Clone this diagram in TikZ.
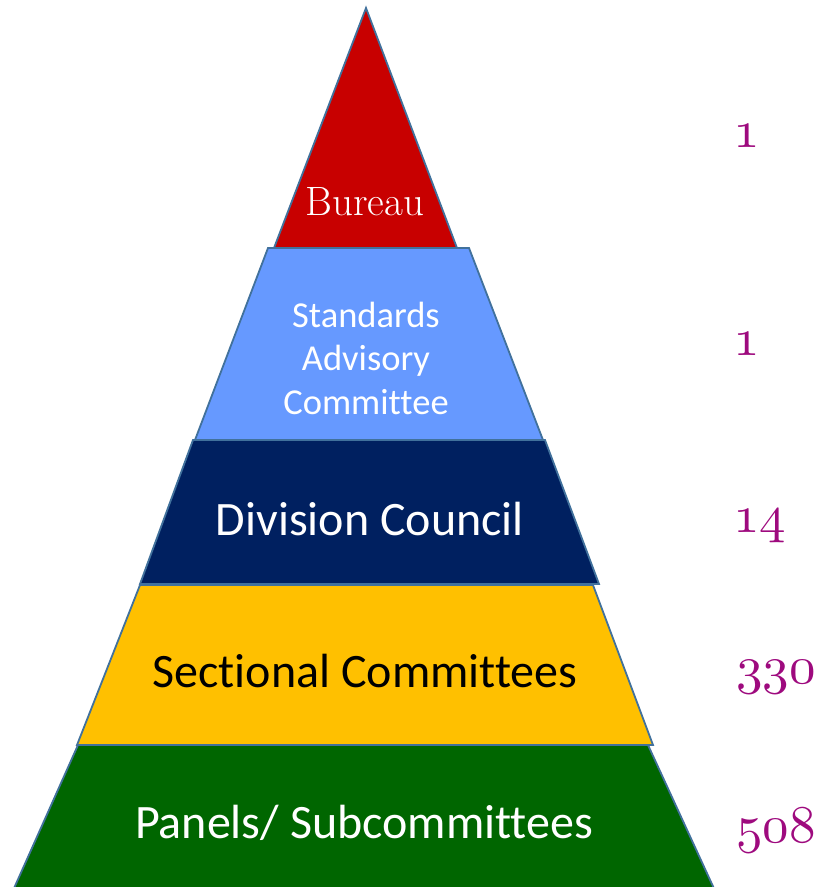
\documentclass[tikz,border=0pt]{standalone}
\usepackage{fontspec}
\newfontfamily\calibri{Carlito}[Ligatures=NoCommon]
\DeclareFontFamily{OML}{oldnum}{\skewchar\font127 }
\DeclareFontShape{OML}{oldnum}{m}{it}{<-> cmmi10}{}
\newcommand{\osnum}[1]{{\usefont{OML}{oldnum}{m}{it}#1}}
\definecolor{edgeblue}{RGB}{65,113,156}
\definecolor{bureaured}{HTML}{C80000}
\definecolor{sacblue}{HTML}{6699FF}
\definecolor{divnavy}{HTML}{002060}
\definecolor{secyellow}{HTML}{FFC000}
\definecolor{pangreen}{HTML}{006600}
\definecolor{numpurple}{HTML}{9E0A7E}
\tikzset{
  layer/.style={draw=edgeblue, line width=1.8pt, line join=miter},
  biglabel/.style={anchor=base, inner sep=0pt, font=\calibri\fontsize{48}{52}\selectfont},
  countlabel/.style={anchor=base west, inner sep=0pt, text=numpurple, font=\fontsize{53}{56}\selectfont}
}
\begin{document}
\begin{tikzpicture}[x=1pt,y=1pt]
\useasboundingbox (0,0) rectangle (825,-887);
% layers
\path[layer, fill=pangreen] (78,-745) -- (648,-745) -- (717,-895) -- (11,-895) -- cycle;
\path[layer, fill=secyellow] (140,-585) -- (593,-585) -- (653,-745) -- (77,-745) -- cycle;
\path[layer, fill=divnavy] (193,-440) -- (545,-440) -- (599,-584) -- (140,-584) -- cycle;
\path[layer, fill=sacblue] (268,-248) -- (469,-248) -- (543,-440) -- (195,-440) -- cycle;
\path[layer, fill=bureaured] (366,-8) -- (457,-248) -- (274,-248) -- cycle;
% labels
\node[anchor=base, inner sep=0pt, text=white, font=\fontsize{41}{46}\selectfont] (bureau) at (365,-215) {Bureau};
\node[anchor=base, inner sep=0pt, text=white, align=center, font=\calibri\fontsize{36.5}{43.5}\selectfont] (sac) at (366,-414) {Standards\\Advisory\\Committee};
\node[biglabel, text=white] (div) at (370,-535) {Division Council};
\node[biglabel, text=black] (sec) at (365,-687) {Sectional Committees};
\node[biglabel, text=white] (pan) at (364,-838) {Panels/ Subcommittees};
% counts
\node[countlabel] (n1) at (733,-147) {\osnum{1}};
\node[countlabel] (n2) at (733,-355) {\osnum{1}};
\node[countlabel] (n3) at (733,-532) {\osnum{14}};
\node[countlabel] (n4) at (736,-683) {\osnum{330}};
\node[countlabel] (n5) at (736,-842) {\osnum{508}};
\end{tikzpicture}
\end{document}
